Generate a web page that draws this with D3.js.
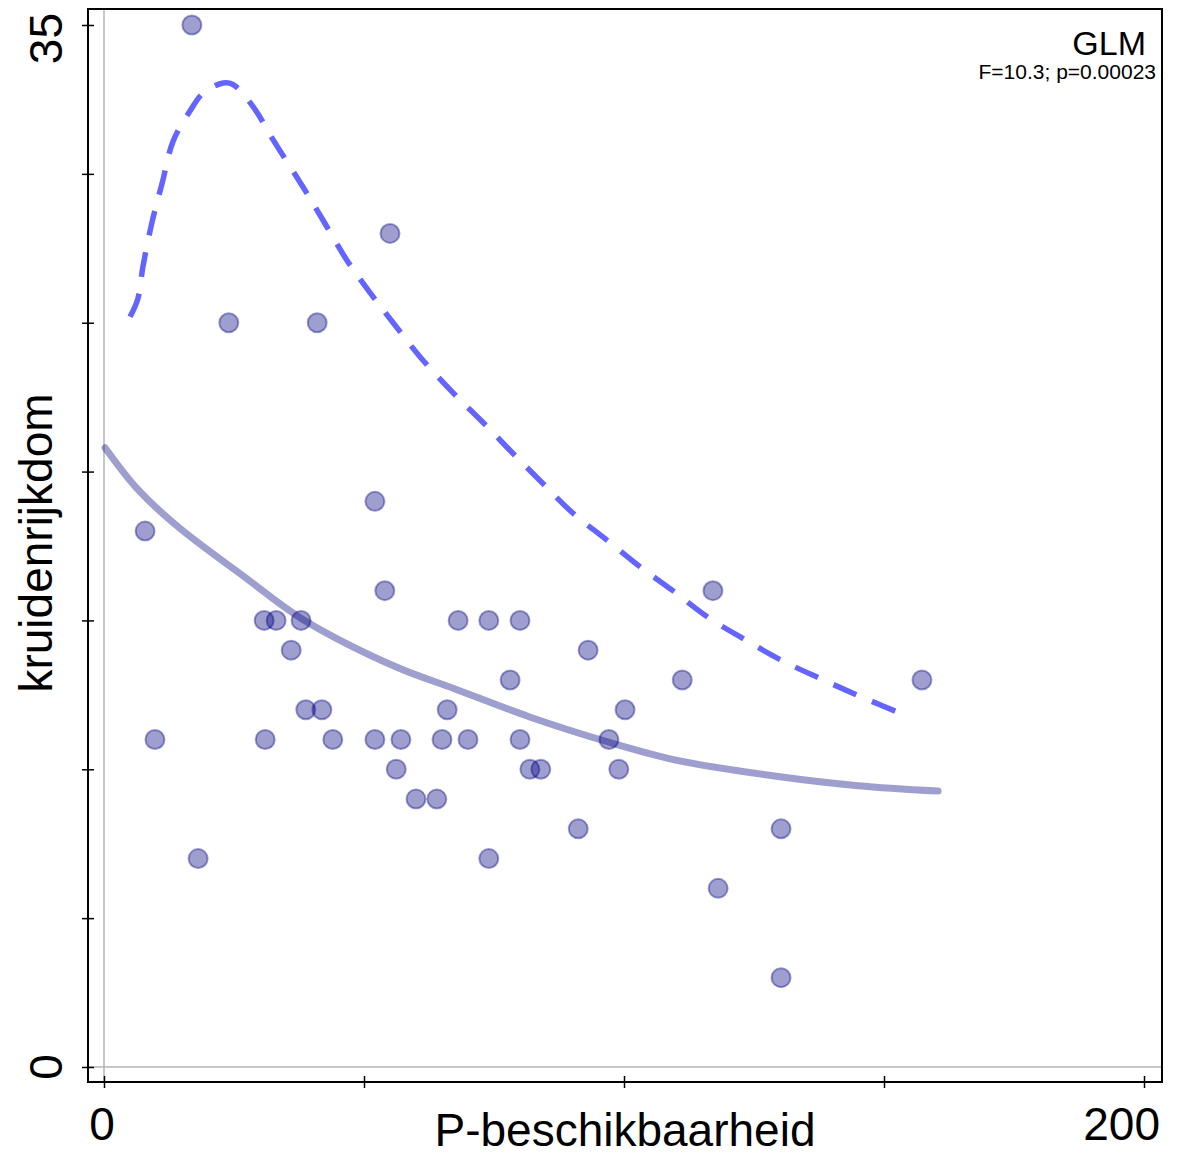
<!DOCTYPE html>
<html lang="nl">
<head>
    <meta charset="UTF-8">
    <title>kruidenrijkdom vs P-beschikbaarheid</title>
    <script src="https://d3js.org/d3.v7.min.js"></script>
    <style>
        body { margin: 0; background: white; }
        text { font-family: "Liberation Sans", Arial, sans-serif; fill: black; }
        .axis path { display: none; }
        .axis line { stroke: black; stroke-width: 1.5; }
    </style>
</head>
<body>

<svg width="1178" height="1155"></svg>

<script>
    // observed points
    const pX = [16.9, 24.0, 41.0, 55.0, 52.1, 7.9, 54.0, 30.8, 33.1, 37.9, 68.1, 74.0, 80.0, 117.1,
                36.0, 93.1, 78.1, 111.2, 157.3, 38.8, 41.9, 66.0, 100.2, 9.8, 31.0, 44.0, 52.1,
                57.1, 65.0, 70.0, 80.0, 97.1, 56.2, 81.9, 84.0, 99.0, 60.0, 64.0, 91.2, 130.2,
                18.1, 74.0, 118.1, 130.2];
    const pY = [35, 25, 25, 28, 19, 18, 16, 15, 15, 15, 15, 15, 15, 16,
                14, 14, 13, 13, 13, 12, 12, 12, 12, 11, 11, 11, 11,
                11, 11, 11, 11, 11, 10, 10, 10, 10, 9, 9, 8, 8,
                7, 7, 6, 3];

    // GLM fit (solid)
    const fitX = [0.2, 6.5, 14.2, 27.1, 38.1, 56.0, 67.5, 82.0, 97.3, 110.2, 130.0, 145.0, 160.4];
    const fitY = [20.8, 19.4, 18.15, 16.45, 15.05, 13.45, 12.7, 11.75, 10.9, 10.3, 9.75, 9.45, 9.27];

    // upper curve (dashed)
    const upX = [5.0, 6.5, 7.5, 9.2, 11.2, 13.3, 16.5, 19.0, 22.9, 24.8, 28.7, 32.5, 38.3, 42.1,
                 46.7, 51.2, 55.6, 60.8, 67.1, 72.9, 78.7, 84.4, 90.2, 96.7, 103.1, 109.4,
                 116.2, 123.3, 130.4, 137.7, 145.4, 155.0];
    const upY = [25.2, 25.8, 26.9, 28.35, 29.7, 31.1, 32.1, 32.7, 33.05, 33.0, 32.25, 31.15, 29.55, 28.45,
                 27.1, 26.0, 25.0, 23.85, 22.65, 21.65, 20.6, 19.6, 18.6, 17.7, 16.8, 16.0,
                 15.1, 14.35, 13.65, 13.05, 12.45, 11.75];

    const xTicks = [0, 50, 100, 150, 200];
    const yTicks = [0, 5, 10, 15, 20, 25, 30, 35];

    const svg = d3.select("svg");

    const box = { left: 88, top: 9, right: 1162, bottom: 1082 };
    const x = d3.scaleLinear().domain([0, 200]).range([104, 1144]);
    const y = d3.scaleLinear().domain([0, 35]).range([1067, 25]);

    // zero reference lines
    svg.append("line")
        .attr("x1", x(0)).attr("x2", x(0))
        .attr("y1", box.top).attr("y2", box.bottom)
        .attr("stroke", "#b4b4b4").attr("stroke-width", 1.5);
    svg.append("line")
        .attr("x1", box.left).attr("x2", box.right)
        .attr("y1", y(0)).attr("y2", y(0))
        .attr("stroke", "#b4b4b4").attr("stroke-width", 1.5);

    // ticks crossing the frame
    const yAxis = svg.append("g")
        .attr("class", "axis")
        .attr("transform", `translate(${box.left},0)`)
        .call(d3.axisLeft(y).tickValues(yTicks).tickSize(6).tickFormat(""));
    yAxis.selectAll(".tick line").attr("x1", 6);

    const xAxis = svg.append("g")
        .attr("class", "axis")
        .attr("transform", `translate(0,${box.bottom})`)
        .call(d3.axisBottom(x).tickValues(xTicks).tickSize(6).tickFormat(""));
    xAxis.selectAll(".tick line").attr("y1", -6);

    // frame
    svg.append("rect")
        .attr("x", box.left).attr("y", box.top)
        .attr("width", box.right - box.left).attr("height", box.bottom - box.top)
        .attr("fill", "none").attr("stroke", "black").attr("stroke-width", 2);

    // tick labels (only ends, like the original)
    svg.append("text")
        .attr("transform", `translate(62,13) rotate(-90)`)
        .attr("text-anchor", "end")
        .style("font-size", "46px")
        .text("35");
    svg.append("text")
        .attr("transform", `translate(62,${y(0)}) rotate(-90)`)
        .attr("text-anchor", "middle")
        .style("font-size", "46px")
        .text("0");
    svg.append("text")
        .attr("x", x(0) - 2).attr("y", 1140)
        .attr("text-anchor", "middle")
        .style("font-size", "46px")
        .text("0");
    svg.append("text")
        .attr("x", 1160).attr("y", 1140)
        .attr("text-anchor", "end")
        .style("font-size", "46px")
        .text("200");

    // axis titles
    svg.append("text")
        .attr("x", 625).attr("y", 1146)
        .attr("text-anchor", "middle")
        .style("font-size", "46px")
        .text("P-beschikbaarheid");
    svg.append("text")
        .attr("transform", "translate(52,543) rotate(-90)")
        .attr("text-anchor", "middle")
        .style("font-size", "46px")
        .text("kruidenrijkdom");

    // points
    svg.append("g")
        .selectAll("circle")
        .data(pX.map((d, i) => [d, pY[i]]))
        .join("circle")
        .attr("cx", d => x(d[0]))
        .attr("cy", d => y(d[1]))
        .attr("r", 9.5)
        .attr("fill", "rgba(0,0,128,0.38)")
        .attr("stroke", "rgba(0,0,128,0.38)")
        .attr("stroke-width", 2);

    const line = d3.line()
        .x(d => x(d[0]))
        .y(d => y(d[1]))
        .curve(d3.curveCatmullRom);

    // fitted GLM curve
    svg.append("path")
        .datum(fitX.map((d, i) => [d, fitY[i]]))
        .attr("d", line)
        .attr("fill", "none")
        .attr("stroke", "rgba(0,0,128,0.38)")
        .attr("stroke-width", 7)
        .attr("stroke-linecap", "round");

    // dashed upper curve
    svg.append("path")
        .datum(upX.map((d, i) => [d, upY[i]]))
        .attr("d", line)
        .attr("fill", "none")
        .attr("stroke", "#6464ff")
        .attr("stroke-width", 5.5)
        .attr("stroke-dasharray", "25,17");

    // annotation
    svg.append("text")
        .attr("x", 1146).attr("y", 55)
        .attr("text-anchor", "end")
        .style("font-size", "34px")
        .text("GLM");
    svg.append("text")
        .attr("x", 1156).attr("y", 79)
        .attr("text-anchor", "end")
        .style("font-size", "21px")
        .text("F=10.3; p=0.00023");
</script>

</body>
</html>
